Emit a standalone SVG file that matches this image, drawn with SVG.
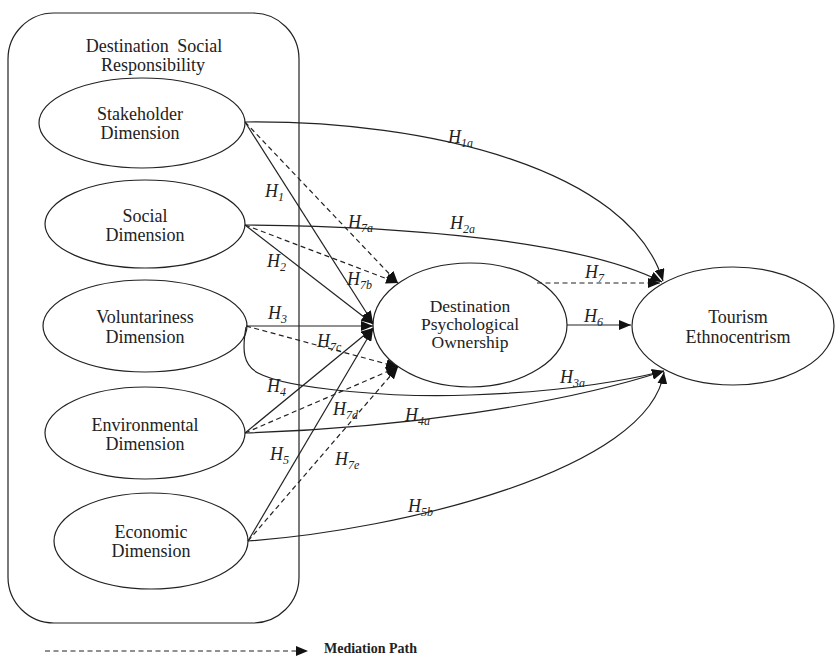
<svg xmlns="http://www.w3.org/2000/svg" width="835" height="656" viewBox="0 0 835 656">
<style>
.node{fill:#fff;stroke:#222;stroke-width:1.2}
.nt{font-family:"Liberation Serif","Times New Roman",serif;font-size:18px;fill:#222;text-anchor:middle}
.nt2{font-family:"Liberation Serif","Times New Roman",serif;font-size:17.5px;fill:#222;text-anchor:middle}
.c{fill:none;stroke:#222;stroke-width:1.2}
.d{fill:none;stroke:#222;stroke-width:1.2;stroke-dasharray:5,3.5}
.lb{font-family:"Liberation Serif","Times New Roman",serif;font-size:18px;font-style:italic;fill:#222}
.sb{font-size:12px}
</style>
<defs>
<marker id="ah" viewBox="0 0 12 10" refX="12" refY="5" markerWidth="12" markerHeight="10" markerUnits="userSpaceOnUse" orient="auto"><path d="M0,0 L12,5 L0,10 z" fill="#111"/></marker>
</defs>
<g id="dsr-box">
<rect x="8" y="13" width="291" height="610" rx="46" ry="46" fill="none" stroke="#222" stroke-width="1.2"/>
<text class="nt" x="154" y="52" word-spacing="4">Destination Social</text>
<text class="nt" x="153" y="71">Responsibility</text>
</g>
<g id="stakeholder">
<ellipse class="node" cx="142" cy="123" rx="103" ry="45"/>
<text class="nt" x="140" y="120">Stakeholder</text>
<text class="nt" x="140" y="139">Dimension</text>
</g>
<g id="social">
<ellipse class="node" cx="145" cy="224" rx="100" ry="44"/>
<text class="nt" x="145" y="222">Social</text>
<text class="nt" x="145" y="241">Dimension</text>
</g>
<g id="voluntariness">
<ellipse class="node" cx="145" cy="326" rx="102" ry="46"/>
<text class="nt" x="145" y="323">Voluntariness</text>
<text class="nt" x="145" y="343">Dimension</text>
</g>
<g id="environmental">
<ellipse class="node" cx="145" cy="433" rx="100" ry="46"/>
<text class="nt" x="145" y="431">Environmental</text>
<text class="nt" x="145" y="450">Dimension</text>
</g>
<g id="economic">
<ellipse class="node" cx="151" cy="541" rx="97" ry="48"/>
<text class="nt" x="151" y="538">Economic</text>
<text class="nt" x="151" y="557">Dimension</text>
</g>
<g id="dpo">
<ellipse class="node" cx="470" cy="325" rx="97" ry="62"/>
<text class="nt2" x="470" y="312">Destination</text>
<text class="nt2" x="470" y="330">Psychological</text>
<text class="nt2" x="470" y="348">Ownership</text>
</g>
<g id="te">
<ellipse class="node" cx="733" cy="326" rx="101" ry="59"/>
<text class="nt" x="738" y="323">Tourism</text>
<text class="nt" x="738" y="343">Ethnocentrism</text>
</g>
<g id="connectors">
<path class="c" d="M245,122 C430,120 630,170 663,281" marker-end="url(#ah)"/>
<path class="c" d="M245,225 C400,226 580,240 662,282" marker-end="url(#ah)"/>
<path class="d" d="M537,283 L660,283" marker-end="url(#ah)"/>
<path class="c" d="M567,325 L631,325" marker-end="url(#ah)"/>
<path class="c" d="M246,327 C242,350 243,365 258,373 C290,390 400,398 470,395 C560,392 620,382 664,371" marker-end="url(#ah)"/>
<path class="c" d="M245,433 C400,428 560,405 664,371" marker-end="url(#ah)"/>
<path class="c" d="M248,541 C400,530 650,470 664,372" marker-end="url(#ah)"/>
<path class="c" d="M245,122 L373,323" marker-end="url(#ah)"/>
<path class="c" d="M245,225 L373,324" marker-end="url(#ah)"/>
<path class="c" d="M246,326 L373,326" marker-end="url(#ah)"/>
<path class="c" d="M245,433 L373,328" marker-end="url(#ah)"/>
<path class="c" d="M248,541 L373,329" marker-end="url(#ah)"/>
<path class="d" d="M245,122 L398,283" marker-end="url(#ah)"/>
<path class="d" d="M245,225 L398,283" marker-end="url(#ah)"/>
<path class="d" d="M246,326 L398,367" marker-end="url(#ah)"/>
<path class="d" d="M245,433 L398,367" marker-end="url(#ah)"/>
<path class="d" d="M248,541 L398,367" marker-end="url(#ah)"/>
</g>
<g id="labels">
<text class="lb" x="448" y="143">H<tspan class="sb" dy="4">1a</tspan></text>
<text class="lb" x="450" y="229">H<tspan class="sb" dy="4">2a</tspan></text>
<text class="lb" x="585" y="278">H<tspan class="sb" dy="4">7</tspan></text>
<text class="lb" x="584" y="322">H<tspan class="sb" dy="4">6</tspan></text>
<text class="lb" x="265" y="197">H<tspan class="sb" dy="4">1</tspan></text>
<text class="lb" x="348" y="228">H<tspan class="sb" dy="4">7a</tspan></text>
<text class="lb" x="267" y="267">H<tspan class="sb" dy="4">2</tspan></text>
<text class="lb" x="347" y="285">H<tspan class="sb" dy="4">7b</tspan></text>
<text class="lb" x="268" y="319">H<tspan class="sb" dy="4">3</tspan></text>
<text class="lb" x="317" y="347">H<tspan class="sb" dy="4">7c</tspan></text>
<text class="lb" x="267" y="392">H<tspan class="sb" dy="4">4</tspan></text>
<text class="lb" x="333" y="415">H<tspan class="sb" dy="4">7d</tspan></text>
<text class="lb" x="405" y="421">H<tspan class="sb" dy="4">4a</tspan></text>
<text class="lb" x="270" y="460">H<tspan class="sb" dy="4">5</tspan></text>
<text class="lb" x="335" y="465">H<tspan class="sb" dy="4">7e</tspan></text>
<text class="lb" x="560" y="383">H<tspan class="sb" dy="4">3a</tspan></text>
<text class="lb" x="408" y="512">H<tspan class="sb" dy="4">5b</tspan></text>
</g>
<g id="legend">
<path class="d" d="M45,651 L308,651" marker-end="url(#ah)"/>
<text x="324" y="653" font-family="'Liberation Serif','Times New Roman',serif" font-size="14" font-weight="bold" fill="#222">Mediation Path</text>
</g>
</svg>
